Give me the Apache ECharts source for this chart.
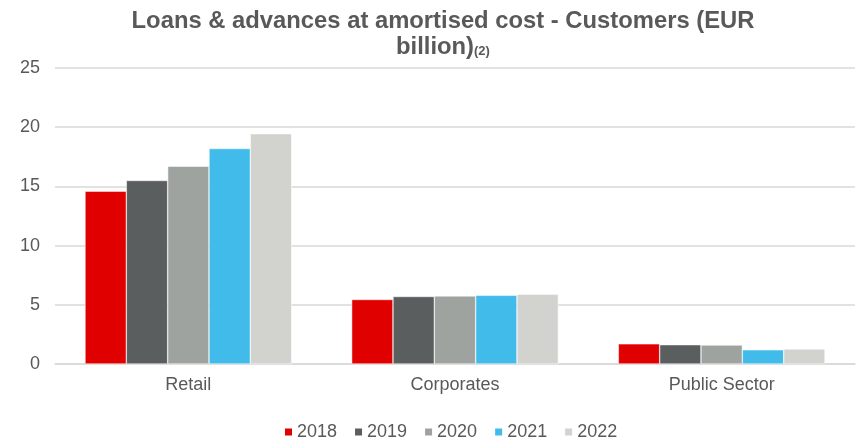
<!DOCTYPE html>
<html>
<head>
<meta charset="utf-8">
<script src="https://cdn.jsdelivr.net/npm/echarts@6/dist/echarts.min.js"></script>
<style>
  html, body { margin: 0; padding: 0; background: #ffffff; }
  #chart { width: 864px; height: 441px; }
</style>
</head>
<body>
<div id="chart"></div>
<script>
var categories = ['Retail', 'Corporates', 'Public Sector']
var years = ['2018', '2019', '2020', '2021', '2022']
var values2018 = [14.6, 5.45, 1.7]
var values2019 = [15.5, 5.7, 1.63]
var values2020 = [16.7, 5.75, 1.6]
var values2021 = [18.2, 5.8, 1.2]
var values2022 = [19.45, 5.9, 1.27]
var colors = ['#e00000', '#5a5e5f', '#9ea3a0', '#41bbea', '#d2d3ce']

var allValues = [values2018, values2019, values2020, values2021, values2022]
var chart = echarts.init(document.getElementById('chart'))

var series = years.map(function (y, i) {
  return {
    name: y,
    type: 'bar',
    barGap: '0%',
    barCategoryGap: '22.5%',
    itemStyle: { color: colors[i], borderColor: '#ffffff', borderWidth: 0.5 },
    data: allValues[i]
  }
})

chart.setOption({
  animation: false,
  textStyle: { fontFamily: 'Liberation Sans, Arial, sans-serif' },
  title: {
    left: 438,
    top: 3,
    textAlign: 'center',
    text: '{t|Loans & advances at amortised cost - Customers (EUR}\n{t|billion)}{s|(2)}',
    textStyle: {
      rich: {
        t: { fontSize: 23.8, fontWeight: 'bold', color: '#595959', lineHeight: 26 },
        s: { fontSize: 13, fontWeight: 'bold', color: '#595959', lineHeight: 26, padding: [8, 0, 0, 0] }
      }
    }
  },
  legend: {
    bottom: -5,
    left: 278,
    itemWidth: 9,
    itemHeight: 9,
    itemGap: 16,
    icon: 'rect',
    textStyle: { fontSize: 18, color: '#595959', padding: [0, 0, 0, -1] },
    data: years
  },
  grid: { left: 55, right: 9, top: 68, bottom: 77 },
  xAxis: {
    type: 'category',
    data: categories,
    axisLine: { lineStyle: { color: '#d9d9d9', width: 1.5 } },
    axisTick: { show: false },
    axisLabel: { fontSize: 18, color: '#595959', margin: 12 }
  },
  yAxis: {
    type: 'value',
    min: 0,
    max: 25,
    interval: 5,
    axisLine: { show: false },
    axisTick: { show: false },
    splitLine: { lineStyle: { color: '#d9d9d9', width: 1.5 } },
    axisLabel: { fontSize: 18, color: '#595959', margin: 15 }
  },
  series: series
})
</script>
</body>
</html>
